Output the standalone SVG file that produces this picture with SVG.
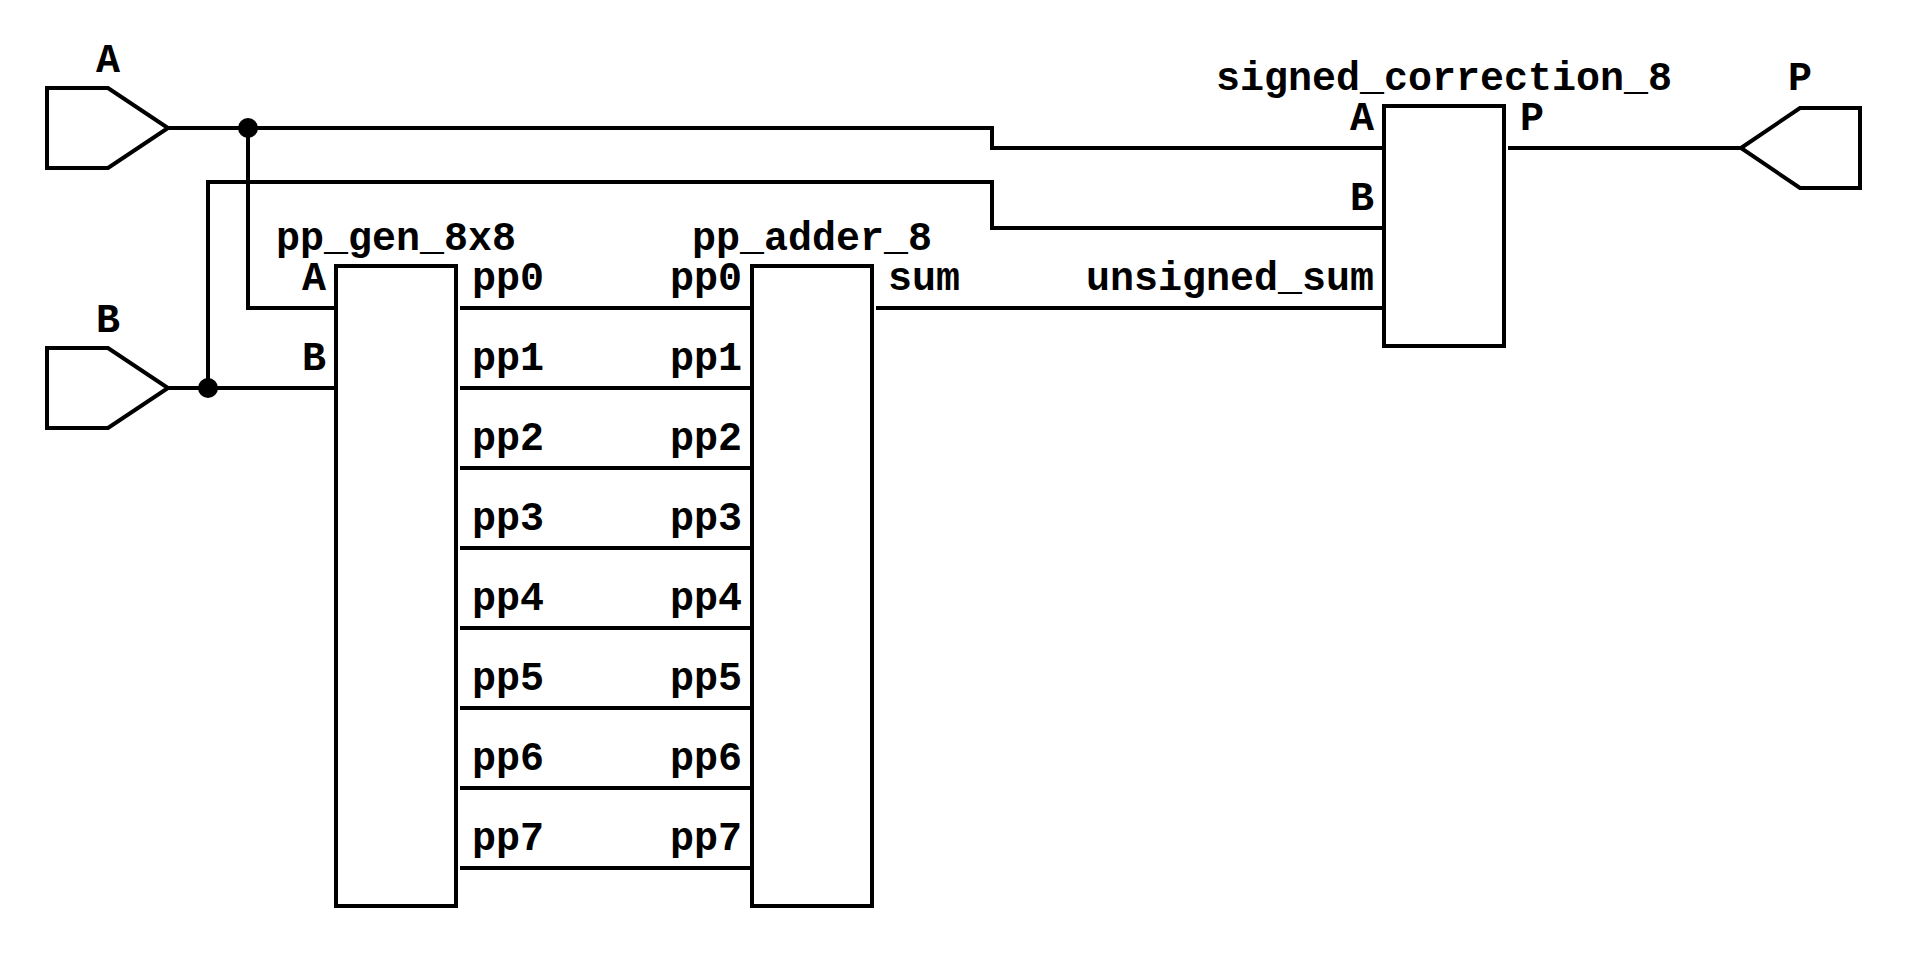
<svg xmlns="http://www.w3.org/2000/svg" width="1908" height="966" viewBox="0 0 1908 966">
<style>
.w{fill:none;stroke:#000;stroke-width:4;stroke-linejoin:miter;stroke-linecap:butt}
.b{fill:#fff;stroke:#000;stroke-width:4}
.t{font-family:"Liberation Mono","Courier New",monospace;font-weight:bold;font-size:40px;fill:#000}
.m{text-anchor:middle}
.e{text-anchor:end}
</style>
<rect width="1908" height="966" fill="#fff"/>
<g id="connectors">
<polyline class="w" points="168,128 992,128 992,148 1384,148"/>
<polyline class="w" points="248,128 248,308 336,308"/>
<polyline class="w" points="168,388 336,388"/>
<polyline class="w" points="208,388 208,182 992,182 992,228 1384,228"/>
<line class="w" x1="460" y1="308" x2="752" y2="308"/>
<line class="w" x1="460" y1="388" x2="752" y2="388"/>
<line class="w" x1="460" y1="468" x2="752" y2="468"/>
<line class="w" x1="460" y1="548" x2="752" y2="548"/>
<line class="w" x1="460" y1="628" x2="752" y2="628"/>
<line class="w" x1="460" y1="708" x2="752" y2="708"/>
<line class="w" x1="460" y1="788" x2="752" y2="788"/>
<line class="w" x1="460" y1="868" x2="752" y2="868"/>
<line class="w" x1="876" y1="308" x2="1384" y2="308"/>
<line class="w" x1="1508" y1="148" x2="1741" y2="148"/>
<circle cx="248" cy="128" r="10" fill="#000"/>
<circle cx="208" cy="388" r="10" fill="#000"/>
</g>
<g id="in_A">
<polygon class="b" points="47,88 108,88 168,128 108,168 47,168"/>
<text class="t m" x="108" y="72">A</text>
</g>
<g id="in_B">
<polygon class="b" points="47,348 108,348 168,388 108,428 47,428"/>
<text class="t m" x="108" y="332">B</text>
</g>
<g id="out_P">
<polygon class="b" points="1741,148 1800,108 1860,108 1860,188 1800,188"/>
<text class="t m" x="1800" y="90">P</text>
</g>
<g id="pp_gen_8x8">
<rect class="b" x="336" y="266" width="120" height="640"/>
<text class="t m" x="396" y="250">pp_gen_8x8</text>
<text class="t e" x="326" y="290">A</text>
<text class="t e" x="326" y="370">B</text>
<text class="t" x="472" y="290">pp0</text>
<text class="t" x="472" y="370">pp1</text>
<text class="t" x="472" y="450">pp2</text>
<text class="t" x="472" y="530">pp3</text>
<text class="t" x="472" y="610">pp4</text>
<text class="t" x="472" y="690">pp5</text>
<text class="t" x="472" y="770">pp6</text>
<text class="t" x="472" y="850">pp7</text>
</g>
<g id="pp_adder_8">
<rect class="b" x="752" y="266" width="120" height="640"/>
<text class="t m" x="812" y="250">pp_adder_8</text>
<text class="t e" x="742" y="290">pp0</text>
<text class="t e" x="742" y="370">pp1</text>
<text class="t e" x="742" y="450">pp2</text>
<text class="t e" x="742" y="530">pp3</text>
<text class="t e" x="742" y="610">pp4</text>
<text class="t e" x="742" y="690">pp5</text>
<text class="t e" x="742" y="770">pp6</text>
<text class="t e" x="742" y="850">pp7</text>
<text class="t" x="888" y="290">sum</text>
</g>
<g id="signed_correction_8">
<rect class="b" x="1384" y="106" width="120" height="240"/>
<text class="t m" x="1444" y="90">signed_correction_8</text>
<text class="t e" x="1374" y="130">A</text>
<text class="t e" x="1374" y="210">B</text>
<text class="t e" x="1374" y="290">unsigned_sum</text>
<text class="t" x="1520" y="130">P</text>
</g>
</svg>
